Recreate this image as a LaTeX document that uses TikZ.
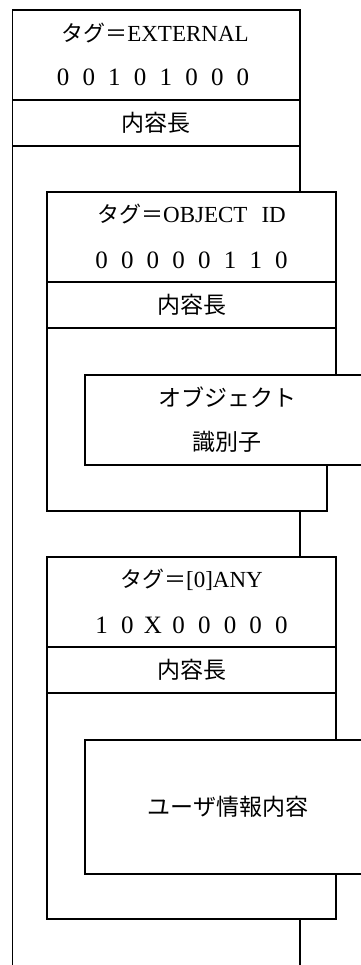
\documentclass[tikz,border=0pt]{standalone}
\usepackage{fontspec}
\setmainfont{Liberation Serif}
\newfontfamily\jp{Noto Sans CJK JP}
\newcommand\dg[1]{\makebox[25.7pt]{#1}}
\begin{document}
\begin{tikzpicture}[x=1pt,y=-1pt,line width=1.5pt,
  every node/.style={inner sep=0pt},
  lbl/.style={font=\fontsize{23}{27}\selectfont},
  bits/.style={font=\fontsize{25}{27}\selectfont},
  jlbl/.style={font=\fontsize{23}{27}\selectfont\jp}]
\useasboundingbox (0,0) rectangle (360,965);
% outer (EXTERNAL)
\draw (12.5,965) -- (12.5,10) -- (300,10) -- (300,192);
\draw (12.5,100) -- (300,100);
\draw (12.5,146) -- (300,146);
\draw (300,511) -- (300,557);
\draw (300,919) -- (300,965);
% box 1 (OBJECT ID)
\draw (327,465) -- (327,511) -- (47,511) -- (47,192) -- (336,192) -- (336,375);
\draw (47,282) -- (336,282);
\draw (47,328) -- (336,328);
\draw (362,375) -- (85,375) -- (85,465) -- (362,465);
% box 2 ([0]ANY)
\draw (336,874) -- (336,919) -- (47,919) -- (47,557) -- (336,557) -- (336,740);
\draw (47,647) -- (336,647);
\draw (47,693) -- (336,693);
\draw (362,740) -- (85,740) -- (85,874) -- (362,874);
% texts
\node[lbl] (tagA) at (155,33) {{\fontsize{22}{27}\selectfont\jp タグ＝}EXTERNAL};
\node[bits] (bitsA) at (153,77) {\dg0\dg0\dg1\dg0\dg1\dg0\dg0\dg0};
\node[jlbl] (lenA) at (156,123) {内容長};
\node[lbl] (tagB) at (191.5,214) {{\fontsize{22}{27}\selectfont\jp タグ＝}OBJECT\hspace{14pt}ID};
\node[bits] (bitsB) at (191.5,260) {\dg0\dg0\dg0\dg0\dg0\dg1\dg1\dg0};
\node[jlbl] (lenB) at (191.5,305) {内容長};
\node[jlbl] (oidA) at (227,397) {オブジェクト};
\node[jlbl] (oidB) at (227,442) {識別子};
\node[lbl] (tagC) at (191.5,580) {{\fontsize{22}{27}\selectfont\jp タグ＝}[0]ANY};
\node[bits] (bitsC) at (191.5,625) {\dg1\dg0\dg X\dg0\dg0\dg0\dg0\dg0};
\node[jlbl] (lenC) at (191.5,670) {内容長};
\node[jlbl] (user) at (228,807) {ユーザ情報内容};
\end{tikzpicture}
\end{document}
